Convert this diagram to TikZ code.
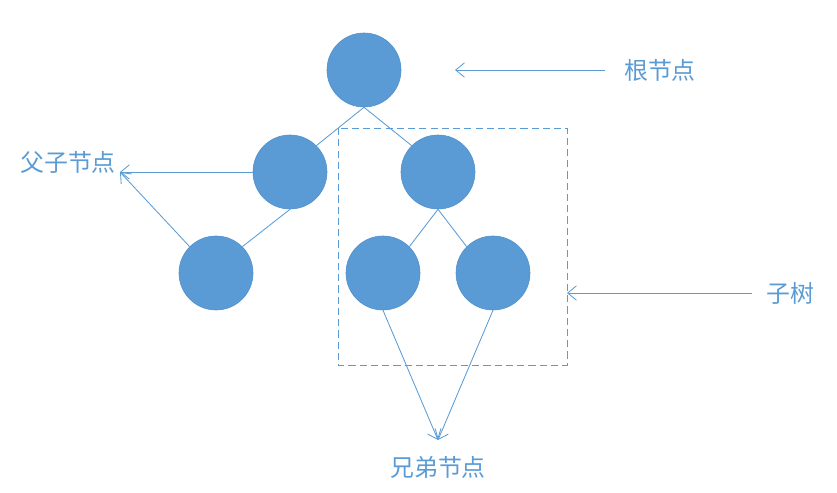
\documentclass[tikz,border=0pt]{standalone}
\usepackage{fontspec}
\newfontfamily\cjk{Noto Sans CJK SC}
\usetikzlibrary{arrows.meta,positioning}
\definecolor{treeblue}{HTML}{5B9BD5}
\definecolor{treeedge}{HTML}{4F8FCB}

\begin{document}
\begin{tikzpicture}[x=0.025cm, y=-0.025cm, every node/.style={font=\cjk\fontsize{17}{20}\selectfont, text=treeblue}, >={Straight Barb[length=2.2mm,width=3.6mm]}]
  \tikzset{treenode/.style={circle, fill=treeblue, draw=treeedge, line width=0.4pt, minimum size=1.85cm, inner sep=0pt},
           link/.style={treeblue, line width=0.6pt}}
  \useasboundingbox (0,0) rectangle (837,493);
  % tree
  \node[treenode] (root) at (364,70) {};
  \node[treenode] (l) at (290,172) {};
  \node[treenode] (r) at (438,172) {};
  \node[treenode] (ll) at (216,273) {};
  \node[treenode] (rl) at (383,273) {};
  \node[treenode] (rr) at (493,273) {};
  \draw[link] (root.south) -- (l.north east);
  \draw[link] (root.south) -- (r.north west);
  \draw[link] (l.south) -- (ll.north east);
  \draw[link] (r.south) -- (rl.north east);
  \draw[link] (r.south) -- (rr.north west);
  % subtree box
  \draw[link, dash pattern=on 5pt off 3pt] (338,128) rectangle (567,365);
  \coordinate (boxe) at (567,293);
  % labels
  \node (rootlbl) at (660,70) {根节点};
  \node (parentlbl) at (68,162) {父子节点};
  \node (sublbl) at (790,293) {子树};
  \node (siblbl) at (438,467) {兄弟节点};
  \coordinate (ptip) at (120,172);
  \coordinate (stip) at (438,440);
  \draw[link, ->] (605,70) -- (455,70);
  \draw[link, ->] (l.west) -- (ptip);
  \draw[link, ->] (ll.north west) -- (ptip);
  \draw[link, ->] (752,293) -- (boxe);
  \draw[link, ->] (rl.south) -- (stip);
  \draw[link, ->] (rr.south) -- (stip);
\end{tikzpicture}
\end{document}
